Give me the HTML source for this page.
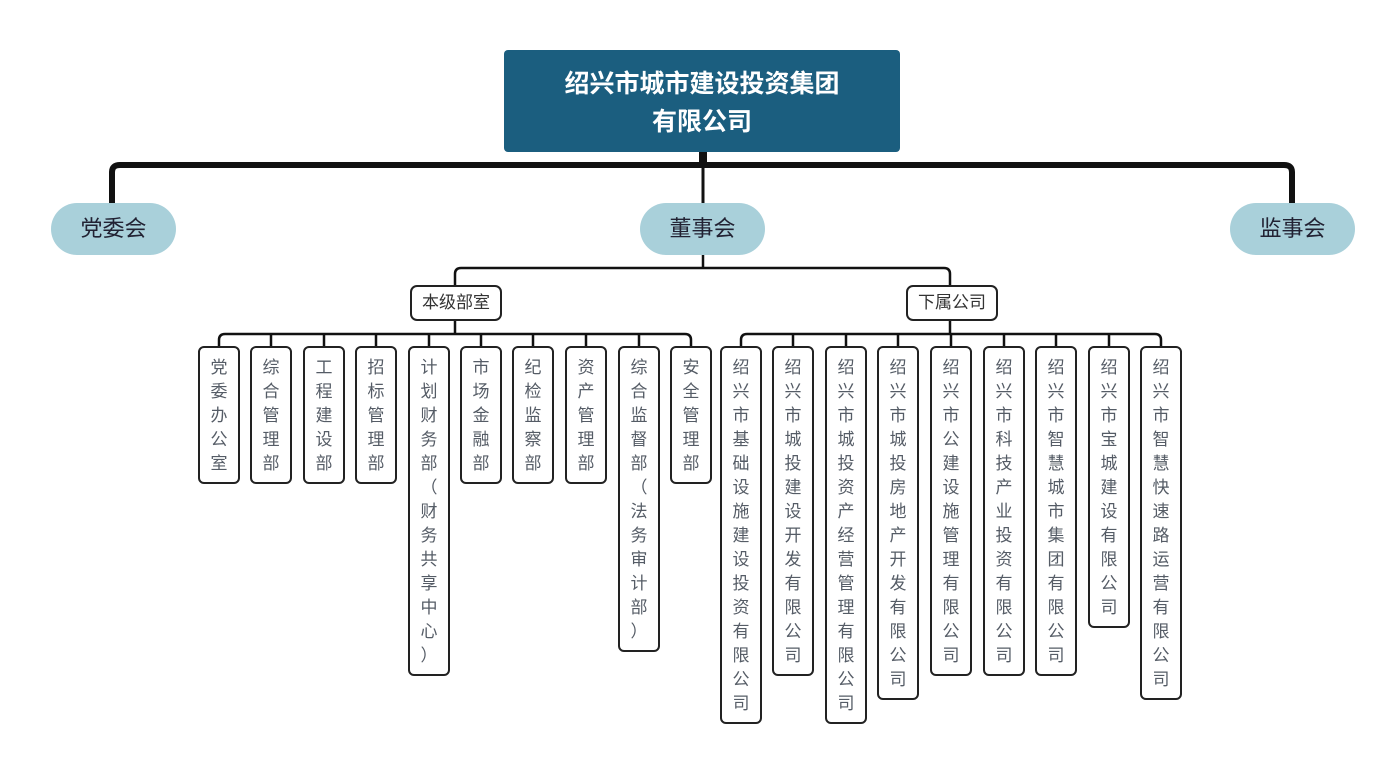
<!DOCTYPE html>
<html><head><meta charset="utf-8"><style>
body{margin:0;width:1396px;height:774px;background:#fff;position:relative;overflow:hidden;font-family:"Liberation Sans","Noto Sans CJK SC",sans-serif}
svg{position:absolute;left:0;top:0}
.v{position:absolute;top:346px;width:38px;border:2px solid #222;border-radius:6px;background:#fff;text-align:center;font-size:17px;line-height:24px;color:#555c66;padding:8px 0 6px;box-sizing:content-box}
.h{position:absolute;top:285px;height:32px;border:2px solid #222;border-radius:7px;background:#fff;font-size:17px;line-height:32px;text-align:center;color:#333}
.e{position:absolute;top:203px;height:52px;width:125px;border-radius:26px;background:#a9d0da;font-size:22px;line-height:52px;text-align:center;color:#223}
</style></head><body>
<svg width="1396" height="774">
<g fill="none" stroke="#111" stroke-linejoin="round">
<path d="M112 205 V172 Q112 165 120 165 H1284 Q1292 165 1292 172 V205" stroke-width="6"/>
<path d="M112 175 V205 M1292 175 V205 M703 150 V205" stroke-width="3"/>
<path d="M703 152 V168" stroke-width="8"/>
<path d="M703 255 V268 M455 287 V274 Q455 268 461 268 H944 Q950 268 950 274 V287" stroke-width="2.5"/>
<path d="M455 320 V334" stroke-width="2.5"/>
<path d="M950 320 V334" stroke-width="2.5"/>
<path d="M219 348 V340 Q219 334 225 334 H685 Q691 334 691 340 V348" stroke-width="2.5"/>
<path d="M271 334 V348 M324 334 V348 M376 334 V348 M429 334 V348 M481 334 V348 M533 334 V348 M586 334 V348 M639 334 V348" stroke-width="2.5"/>
<path d="M741 348 V340 Q741 334 747 334 H1155 Q1161 334 1161 340 V348" stroke-width="2.5"/>
<path d="M793 334 V348 M846 334 V348 M898 334 V348 M951 334 V348 M1004 334 V348 M1056 334 V348 M1109 334 V348" stroke-width="2.5"/>
</g>
<rect x="504" y="50" width="396" height="102" rx="4" fill="#1b5e7f"/>
<text x="702" y="92" text-anchor="middle" font-size="25" font-weight="bold" fill="#fff" font-family="Liberation Sans,Noto Sans CJK SC,sans-serif">绍兴市城市建设投资集团</text>
<text x="702" y="130" text-anchor="middle" font-size="25" font-weight="bold" fill="#fff" font-family="Liberation Sans,Noto Sans CJK SC,sans-serif">有限公司</text>
</svg>
<div class="e" style="left:51px">党委会</div>
<div class="e" style="left:640px">董事会</div>
<div class="e" style="left:1230px">监事会</div>
<div class="h" style="left:410px;width:88px">本级部室</div>
<div class="h" style="left:906px;width:88px">下属公司</div>

<div class="v" style="left:198px">党<br>委<br>办<br>公<br>室</div>
<div class="v" style="left:250px">综<br>合<br>管<br>理<br>部</div>
<div class="v" style="left:303px">工<br>程<br>建<br>设<br>部</div>
<div class="v" style="left:355px">招<br>标<br>管<br>理<br>部</div>
<div class="v" style="left:408px">计<br>划<br>财<br>务<br>部<br>（<br>财<br>务<br>共<br>享<br>中<br>心<br>）</div>
<div class="v" style="left:460px">市<br>场<br>金<br>融<br>部</div>
<div class="v" style="left:512px">纪<br>检<br>监<br>察<br>部</div>
<div class="v" style="left:565px">资<br>产<br>管<br>理<br>部</div>
<div class="v" style="left:618px">综<br>合<br>监<br>督<br>部<br>（<br>法<br>务<br>审<br>计<br>部<br>）</div>
<div class="v" style="left:670px">安<br>全<br>管<br>理<br>部</div>

<div class="v" style="left:720px">绍<br>兴<br>市<br>基<br>础<br>设<br>施<br>建<br>设<br>投<br>资<br>有<br>限<br>公<br>司</div>
<div class="v" style="left:772px">绍<br>兴<br>市<br>城<br>投<br>建<br>设<br>开<br>发<br>有<br>限<br>公<br>司</div>
<div class="v" style="left:825px">绍<br>兴<br>市<br>城<br>投<br>资<br>产<br>经<br>营<br>管<br>理<br>有<br>限<br>公<br>司</div>
<div class="v" style="left:877px">绍<br>兴<br>市<br>城<br>投<br>房<br>地<br>产<br>开<br>发<br>有<br>限<br>公<br>司</div>
<div class="v" style="left:930px">绍<br>兴<br>市<br>公<br>建<br>设<br>施<br>管<br>理<br>有<br>限<br>公<br>司</div>
<div class="v" style="left:983px">绍<br>兴<br>市<br>科<br>技<br>产<br>业<br>投<br>资<br>有<br>限<br>公<br>司</div>
<div class="v" style="left:1035px">绍<br>兴<br>市<br>智<br>慧<br>城<br>市<br>集<br>团<br>有<br>限<br>公<br>司</div>
<div class="v" style="left:1088px">绍<br>兴<br>市<br>宝<br>城<br>建<br>设<br>有<br>限<br>公<br>司</div>
<div class="v" style="left:1140px">绍<br>兴<br>市<br>智<br>慧<br>快<br>速<br>路<br>运<br>营<br>有<br>限<br>公<br>司</div>
</body></html>
